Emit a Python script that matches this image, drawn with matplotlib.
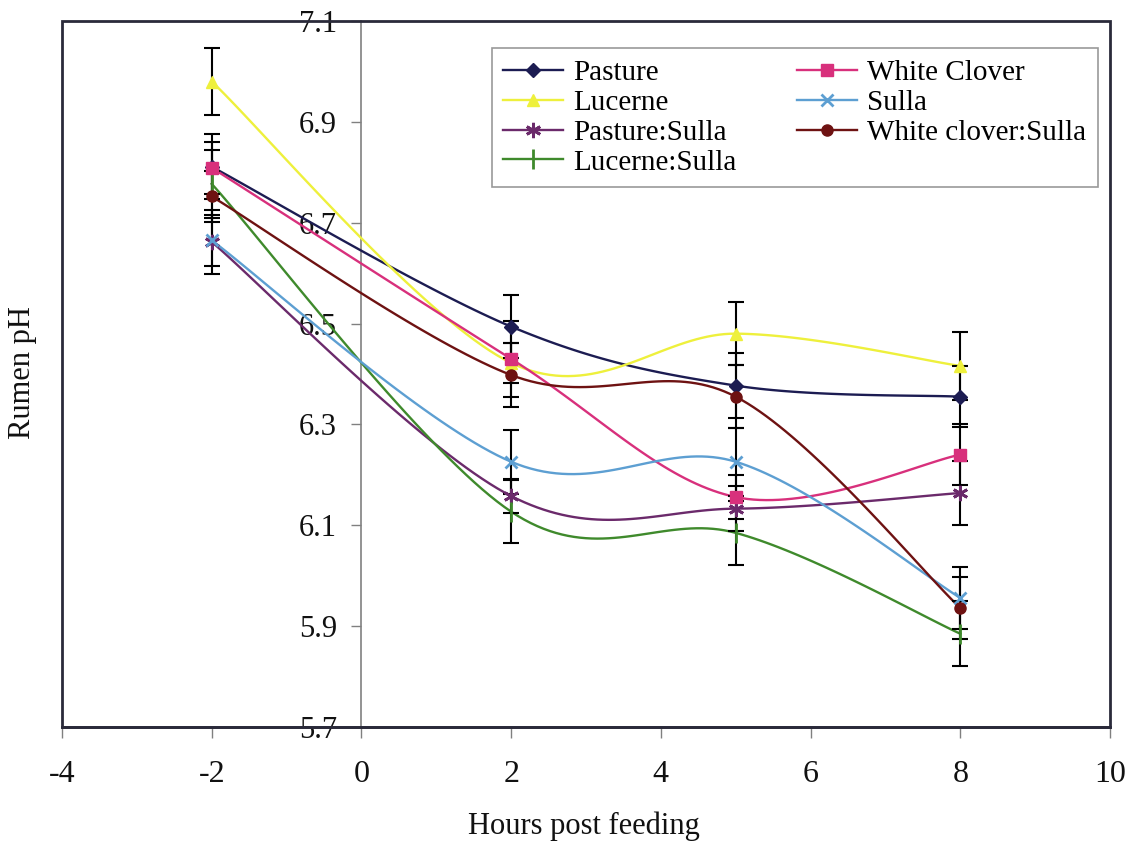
import numpy as np
import matplotlib
matplotlib.use("Agg")
import matplotlib.pyplot as plt
from matplotlib.patches import Rectangle

plt.rcParams['font.family'] = ['Liberation Serif', 'DejaVu Serif']

hours = [-2, 2, 5, 8]

series_names = ["Pasture", "Lucerne", "Pasture:Sulla", "Lucerne:Sulla",
                "White Clover", "Sulla", "White clover:Sulla"]

pasture = [6.811, 6.494, 6.377, 6.355]
lucerne = [6.980, 6.422, 6.480, 6.416]
pasture_sulla = [6.662, 6.158, 6.133, 6.164]
lucerne_sulla = [6.777, 6.127, 6.085, 5.885]
white_clover = [6.809, 6.430, 6.156, 6.240]
sulla = [6.665, 6.226, 6.226, 5.956]
white_clover_sulla = [6.752, 6.398, 6.355, 5.936]

pasture_se = [0.064, 0.063, 0.065, 0.060]
lucerne_se = [0.066, 0.040, 0.063, 0.068]
pasture_sulla_se = [0.063, 0.034, 0.045, 0.064]
lucerne_sulla_se = [0.068, 0.062, 0.064, 0.065]
white_clover_se = [0.052, 0.075, 0.044, 0.060]
sulla_se = [0.050, 0.063, 0.067, 0.062]
white_clover_sulla_se = [0.050, 0.063, 0.062, 0.062]

x_ticks = [-4, -2, 0, 2, 4, 6, 8, 10]
y_ticks = [5.7, 5.9, 6.1, 6.3, 6.5, 6.7, 6.9, 7.1]

styles = {
    "Pasture": dict(color="#1c1c52", marker="D", ms=7),
    "Lucerne": dict(color="#eef03c", marker="^", ms=9),
    "Pasture:Sulla": dict(color="#6b2a6b", marker=(6, 2, 0), ms=11),
    "Lucerne:Sulla": dict(color="#3f8a2c", marker="|", ms=14),
    "White Clover": dict(color="#d8307c", marker="s", ms=8),
    "Sulla": dict(color="#5d9fd2", marker="x", ms=9),
    "White clover:Sulla": dict(color="#6e1212", marker="o", ms=8),
}

data = {
    "Pasture": (pasture, pasture_se),
    "Lucerne": (lucerne, lucerne_se),
    "Pasture:Sulla": (pasture_sulla, pasture_sulla_se),
    "Lucerne:Sulla": (lucerne_sulla, lucerne_sulla_se),
    "White Clover": (white_clover, white_clover_se),
    "Sulla": (sulla, sulla_se),
    "White clover:Sulla": (white_clover_sulla, white_clover_sulla_se),
}

W, H = 1132, 843
fig = plt.figure(figsize=(W / 100, H / 100), dpi=100)
ax = fig.add_axes([62 / W, 1 - 727 / H, (1110 - 62) / W, (727 - 21) / H])
ax.set_xlim(-4, 10)
ax.set_ylim(5.7, 7.1)


def smooth_curve(ax, xs, ys, n=40):
    """Bezier-smoothed polyline computed in display space, returned in data space."""
    pts = ax.transData.transform(np.column_stack([xs, ys]))
    padded = np.vstack([pts[0], pts, pts[-1]])
    out = []
    for i in range(len(pts) - 1):
        p0 = padded[i + 1]
        p3 = padded[i + 2]
        c1 = p0 + (padded[i + 2] - padded[i]) / 6.0
        c2 = p3 - (padded[i + 3] - padded[i + 1]) / 6.0
        t = np.linspace(0, 1, n)[:, None]
        seg = ((1 - t) ** 3) * p0 + 3 * ((1 - t) ** 2) * t * c1 \
            + 3 * (1 - t) * t ** 2 * c2 + t ** 3 * p3
        out.append(seg if i == 0 else seg[1:])
    curve = np.vstack(out)
    back = ax.transData.inverted().transform(curve)
    return back[:, 0], back[:, 1]


handles = []
for name in series_names:
    vals, se = data[name]
    st = styles[name]
    cx, cy = smooth_curve(ax, hours, vals)
    ax.plot(cx, cy, color=st["color"], lw=1.7, zorder=3)
    ax.errorbar(hours, vals, yerr=se, fmt="none", ecolor="black",
                elinewidth=1.5, capsize=6, capthick=1.5, zorder=4)
    mew = 2.0 if st["marker"] in ("x", "|", (6, 2, 0)) else 1
    ax.plot(hours, vals, linestyle="none", marker=st["marker"], ms=st["ms"],
            color=st["color"], mec=st["color"], mew=mew, zorder=5)
    h, = ax.plot([], [], color=st["color"], lw=1.7, marker=st["marker"],
                 ms=st["ms"], mew=mew, label=name)
    handles.append(h)

# y axis sits at x = 0, the plot area keeps a full frame
ax.spines['left'].set_position(('data', 0))
ax.spines['left'].set_color("#808080")
ax.spines['left'].set_linewidth(1.2)
for s in ('top', 'right'):
    ax.spines[s].set_visible(False)
ax.spines['bottom'].set_color("#2a2a3a")
ax.spines['bottom'].set_linewidth(2.0)
ax.add_patch(Rectangle((0, 0), 1, 1, transform=ax.transAxes, fill=False,
                       edgecolor="#2a2a3a", lw=2.0, clip_on=False, zorder=6))

ax.set_xticks(x_ticks)
ax.set_xticklabels([f"{v:g}" for v in x_ticks])
ax.set_yticks(y_ticks)
ax.set_yticklabels([f"{v:.1f}" for v in y_ticks])
ax.tick_params(axis='x', direction='out', length=8, width=1, color="#808080",
               pad=16, labelsize=23, labelcolor="#111111")
ax.tick_params(axis='y', direction='out', length=7.5, width=1, color="#808080",
               pad=10, labelsize=22, labelcolor="#111111")

ax.set_xlabel("Hours post feeding", fontsize=22, color="#111111", va="center")
ax.xaxis.set_label_coords(0.498, -0.140)
ax.set_ylabel("Rumen pH", fontsize=22, color="#111111", va="center")
ax.yaxis.set_label_coords(-0.038, 0.502)

leg = ax.legend(handles=handles, ncol=2, loc="upper left",
                bbox_to_anchor=(0.410, 0.962), borderaxespad=0,
                fontsize=21, frameon=True, fancybox=False, edgecolor="#999999",
                framealpha=1, handlelength=2.05, handletextpad=0.33,
                labelspacing=0.12, columnspacing=2.1, borderpad=0.4)
leg.get_frame().set_linewidth(1.2)
leg.set_zorder(7)

fig.savefig("out.png", dpi=100, facecolor="white")
